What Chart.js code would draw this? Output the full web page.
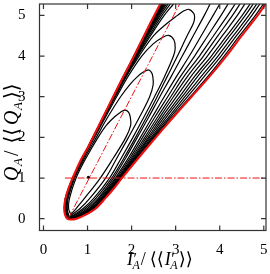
<!DOCTYPE html>
<html><head><meta charset="utf-8">
<script src="https://cdn.jsdelivr.net/npm/chart.js@4"></script>
<style>html,body{margin:0;padding:0;background:#fff}</style>
</head><body>
<canvas id="c" width="270" height="274" style="width:270px;height:274px;display:block"></canvas>
<script>
// ---- data ----
const xTicks = [0,1,2,3,4,5];
const yTicks = [0,1,2,3,4,5];
const levels = [0.1,0.25,0.5,1,1.5,2,2.5,3,3.5,4,4.5,5,5.28];

// red boundary envelope (x,y)
const redEnvelope = [[2.65,5.28],[2.42,4.8],[2.19,4.3],[1.96,3.8],[1.72,3.3],[1.49,2.8],[1.26,2.3],[1.03,1.8],[0.85,1.45],[0.76,1.24],[0.66,1.0],[0.57,0.75],[0.50,0.5],[0.47,0.27],[0.49,0.1],[0.54,0.0],[0.62,-0.02],[0.75,0.0],[0.96,0.10],[1.185,0.25],[1.40,0.5],[1.60,0.75],[1.78,1.0],[2.16,1.5],[2.55,2.0],[2.95,2.5],[3.36,3.0],[3.77,3.5],[4.15,4.0],[4.50,4.5],[4.86,5.0],[5.04,5.28]];
// dash-dot reference lines
const diagLine = [[0.57,0.02],[3.09,5.28]];
const unitLine = [[0.49,1],[5.05,1]];
const markPoint = [[1.02,1.02]];

// closed contours
const loop1 = [[0.62,0.10],[0.57,0.25],[0.59,0.5],[0.74,1],[0.97,1.5],[1.24,2],[1.43,2.3],[1.61,2.5],[1.75,2.62],[1.85,2.67],[1.93,2.62],[1.97,2.5],[1.98,2.3],[1.87,2],[1.59,1.5],[1.29,1],[0.93,0.5],[0.74,0.25],[0.62,0.10]];
const loop2 = [[0.58,0.04],[0.54,0.25],[0.56,0.5],[0.71,1],[0.94,1.5],[1.20,2],[1.46,2.5],[1.75,3.0],[1.96,3.3],[2.14,3.5],[2.26,3.6],[2.38,3.66],[2.45,3.6],[2.48,3.5],[2.49,3.3],[2.41,3.0],[2.18,2.5],[1.93,2],[1.67,1.5],[1.41,1],[1.05,0.5],[0.83,0.25],[0.65,0.1],[0.58,0.04]];
const loop3 = [[0.575,0.03],[0.52,0.25],[0.54,0.5],[0.695,1],[0.915,1.5],[1.16,2],[1.41,2.5],[1.66,3],[1.92,3.5],[2.23,4.0],[2.49,4.3],[2.69,4.45],[2.84,4.51],[2.96,4.4],[2.99,4.2],[2.95,4.0],[2.75,3.5],[2.52,3],[2.28,2.5],[2.03,2],[1.77,1.5],[1.50,1],[1.14,0.5],[0.90,0.25],[0.70,0.1],[0.575,0.03]];
const loop4 = [[0.57,0.02],[0.51,0.25],[0.53,0.5],[0.68,1],[0.90,1.5],[1.14,2],[1.38,2.5],[1.63,3],[1.88,3.5],[2.17,4],[2.50,4.5],[2.80,4.8],[3.04,5.0],[3.17,5.1],[3.30,5.15],[3.41,5.05],[3.43,4.95],[3.40,4.8],[3.26,4.5],[3.04,4],[2.81,3.5],[2.58,3],[2.34,2.5],[2.09,2],[1.83,1.5],[1.55,1],[1.19,0.5],[0.95,0.25],[0.74,0.1],[0.57,0.02]];

// open contours: left-side x and right-side x at each level
const o1L=[0.525,0.505,0.525,0.678,0.900,1.140,1.380,1.620,1.870,2.140,2.43,2.74,2.95];
const o2L=[0.523,0.502,0.522,0.677,0.899,1.138,1.378,1.617,1.862,2.125,2.40,2.69,2.88];
const o3L=[0.520,0.499,0.519,0.675,0.897,1.137,1.375,1.613,1.855,2.110,2.37,2.65,2.83];
const o4L=[0.518,0.496,0.516,0.674,0.896,1.135,1.373,1.610,1.849,2.100,2.35,2.62,2.79];
const o5L=[0.515,0.493,0.513,0.672,0.895,1.133,1.370,1.606,1.843,2.090,2.335,2.60,2.76];
const o6L=[0.513,0.490,0.510,0.671,0.894,1.132,1.368,1.603,1.838,2.080,2.325,2.585,2.74];
const o7L=[0.510,0.487,0.507,0.669,0.892,1.130,1.365,1.599,1.833,2.072,2.315,2.57,2.72];
const o8L=[0.508,0.484,0.504,0.668,0.891,1.128,1.363,1.596,1.829,2.066,2.305,2.56,2.71];
const o9L=[0.505,0.481,0.501,0.666,0.890,1.126,1.360,1.592,1.824,2.060,2.30,2.545,2.69];
const o10L=[0.503,0.478,0.498,0.665,0.888,1.125,1.358,1.589,1.820,2.055,2.29,2.535,2.68];
const o11L=[0.500,0.475,0.495,0.663,0.887,1.123,1.355,1.585,1.815,2.050,2.285,2.525,2.66];
const o1R=[0.79,1.00,1.24,1.59,1.87,2.13,2.39,2.64,2.90,3.15,3.40,3.65,3.78];
const o2R=[0.82,1.04,1.27,1.63,1.93,2.20,2.47,2.74,3.02,3.31,3.58,3.85,4.00];
const o3R=[0.84,1.07,1.30,1.66,1.97,2.25,2.53,2.82,3.11,3.43,3.73,4.03,4.19];
const o4R=[0.86,1.09,1.32,1.685,2.005,2.30,2.59,2.89,3.19,3.54,3.86,4.18,4.35];
const o5R=[0.88,1.11,1.34,1.705,2.035,2.34,2.64,2.95,3.27,3.63,3.96,4.29,4.46];
const o6R=[0.89,1.125,1.355,1.72,2.06,2.38,2.69,3.02,3.35,3.72,4.06,4.40,4.57];
const o7R=[0.91,1.14,1.365,1.735,2.085,2.41,2.74,3.09,3.43,3.81,4.16,4.51,4.69];
const o8R=[0.92,1.15,1.375,1.745,2.105,2.445,2.79,3.15,3.50,3.88,4.23,4.58,4.76];
const o9R=[0.93,1.165,1.383,1.755,2.125,2.475,2.84,3.21,3.58,3.96,4.31,4.66,4.84];
const o10R=[0.94,1.172,1.39,1.765,2.14,2.50,2.88,3.27,3.65,4.03,4.38,4.73,4.91];
const o11R=[0.95,1.18,1.395,1.775,2.15,2.52,2.92,3.33,3.73,4.10,4.45,4.81,4.99];
const openBottom = [0.565,0.01];

// ---- build datasets ----
const toPts = arr => arr.map(p => ({x:p[0], y:p[1]}));
function openLoop(L, R){
  const pts = [];
  for (let i = levels.length-1; i >= 0; i--) pts.push({x:L[i], y:levels[i]});
  pts.push({x:openBottom[0], y:openBottom[1]});
  for (let i = 0; i < levels.length; i++) pts.push({x:R[i], y:levels[i]});
  return pts;
}
const RED = 'rgb(238,16,16)';
const black = d => ({data:d, showLine:true, borderColor:'#000', borderWidth:1.2, pointRadius:0, tension:0.35, fill:false});
const datasets = [
  {data:toPts(redEnvelope), showLine:true, borderColor:RED, borderWidth:2.1, pointRadius:0, tension:0.3, fill:false},
  {data:toPts(diagLine), showLine:true, borderColor:RED, borderWidth:1, borderDash:[7,2,1.5,2], pointRadius:0, fill:false},
  {data:toPts(unitLine), showLine:true, borderColor:RED, borderWidth:1, borderDash:[7,2,1.5,2], pointRadius:0, fill:false},
  {data:toPts(markPoint), showLine:false, pointRadius:1.6, pointBackgroundColor:'#000', pointBorderWidth:0},
  black(toPts(loop1)), black(toPts(loop2)), black(toPts(loop3)), black(toPts(loop4)),
  black(openLoop(o1L,o1R)), black(openLoop(o2L,o2R)), black(openLoop(o3L,o3R)),
  black(openLoop(o4L,o4R)), black(openLoop(o5L,o5R)), black(openLoop(o6L,o6R)),
  black(openLoop(o7L,o7R)), black(openLoop(o8L,o8R)), black(openLoop(o9L,o9R)),
  black(openLoop(o10L,o10R)), black(openLoop(o11L,o11R))
];

const SERIF = '"Liberation Serif","DejaVu Serif",serif';
function drawRich(ctx, parts, x, y){
  let cx = x;
  for (const p of parts){
    ctx.font = p.f;
    ctx.fillText(p.t, cx + (p.dx||0), y + (p.dy||0));
    if (!p.noAdvance) cx += ctx.measureText(p.t).width + (p.dx||0) + (p.sp||0);
  }
  return cx;
}
const xBig = `18px ${SERIF}`, xBigI = `italic 18px ${SERIF}`, xSub = `italic 12px ${SERIF}`;
const xTitle = [
  {t:'I', f:xBigI},
  {t:'′', f:`16px ${SERIF}`, dx:0.5, dy:-1, noAdvance:true},
  {t:'A', f:xSub, dx:-0.5, dy:4, sp:1},
  {t:'/', f:xBig, sp:4},
  {t:'⟨⟨', f:xBig, sp:1},
  {t:'I', f:xBigI},
  {t:'′', f:`16px ${SERIF}`, dx:0.5, dy:-1, noAdvance:true},
  {t:'A', f:xSub, dx:-0.5, dy:4, sp:1},
  {t:'⟩⟩', f:xBig}
];
const yBig = `20px ${SERIF}`, yBigI = `italic 20px ${SERIF}`, ySub = `italic 13px ${SERIF}`;
const yTitle = [
  {t:'Q', f:yBigI, sp:0.5},
  {t:'A', f:ySub, dy:4, sp:2},
  {t:'/', f:yBig, sp:7},
  {t:'⟨⟨', f:yBig, sp:3},
  {t:'Q', f:yBigI, sp:0.5},
  {t:'A', f:ySub, dy:4, sp:3},
  {t:'⟩⟩', f:yBig}
];

const framePlugin = {
  id:'frame',
  afterDraw(chart){
    const {ctx, chartArea:a, scales:{x, y}} = chart;
    ctx.save();
    ctx.strokeStyle = '#333'; ctx.lineWidth = 1.2;
    ctx.strokeRect(a.left, a.top, a.right - a.left, a.bottom - a.top);
    ctx.beginPath();
    for (const v of xTicks){ const p = x.getPixelForValue(v);
      ctx.moveTo(p, a.bottom); ctx.lineTo(p, a.bottom - 5);
      ctx.moveTo(p, a.top); ctx.lineTo(p, a.top + 5); }
    for (const v of yTicks){ const p = y.getPixelForValue(v);
      ctx.moveTo(a.left, p); ctx.lineTo(a.left + 5, p);
      ctx.moveTo(a.right, p); ctx.lineTo(a.right - 5, p); }
    ctx.stroke();
    ctx.fillStyle = '#000'; ctx.textBaseline = 'alphabetic'; ctx.textAlign = 'left';
    drawRich(ctx, xTitle, 127, 265);
    ctx.translate(18, 181); ctx.rotate(-Math.PI/2);
    drawRich(ctx, yTitle, 0, 0);
    ctx.restore();
  }
};
const noPad = s => { s.paddingTop = 0; s.paddingBottom = 0; s.paddingLeft = 0; s.paddingRight = 0; };

new Chart(document.getElementById('c'), {
  type:'scatter',
  data:{datasets},
  options:{
    responsive:false, animation:false, devicePixelRatio:1,
    layout:{padding:{top:1, right:4, left:0, bottom:0}},
    plugins:{legend:{display:false}, tooltip:{enabled:false}},
    scales:{
      x:{type:'linear', min:-0.09, max:5.05,
         grid:{display:false}, border:{display:false},
         afterBuildTicks:s => { s.ticks = xTicks.map(v => ({value:v})); },
         afterFit:s => { s.height = 43.5; noPad(s); },
         ticks:{padding:3, color:'#000', maxRotation:0, font:{family:SERIF, size:15}}},
      y:{type:'linear', min:-0.29, max:5.28,
         grid:{display:false}, border:{display:false},
         afterBuildTicks:s => { s.ticks = yTicks.map(v => ({value:v})); },
         afterFit:s => { s.width = 39.5; noPad(s); },
         ticks:{padding:6, color:'#000', font:{family:SERIF, size:15}}}
    }
  },
  plugins:[framePlugin]
});
</script>
</body></html>
